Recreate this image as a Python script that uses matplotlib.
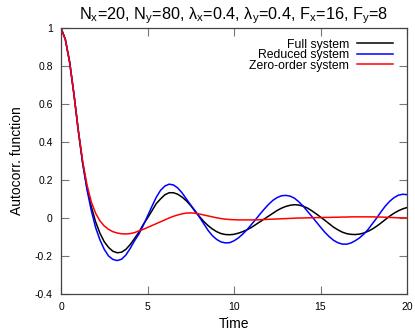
import numpy as np
import matplotlib
matplotlib.use("Agg")
import matplotlib.pyplot as plt

plt.rcParams['font.family'] = ['Liberation Sans', 'DejaVu Sans']

# time grid, step 0.25
time = np.arange(0, 20.001, 0.25)

full = [1.0, 0.94, 0.82, 0.65, 0.46, 0.29, 0.16, 0.06, -0.02, -0.08,
        -0.125, -0.155, -0.175, -0.183, -0.18, -0.165, -0.14, -0.108, -0.075, -0.035,
        0.0, 0.037, 0.075, 0.1, 0.122, 0.133, 0.133, 0.125, 0.11, 0.09,
        0.065, 0.035, 0.008, -0.018, -0.04, -0.058, -0.072, -0.082, -0.087, -0.088,
        -0.086, -0.08, -0.072, -0.062, -0.05, -0.035, -0.02, -0.005, 0.01, 0.025,
        0.04, 0.052, 0.061, 0.067, 0.07, 0.068, 0.062, 0.052, 0.038, 0.022,
        0.005, -0.012, -0.03, -0.048, -0.062, -0.074, -0.082, -0.086, -0.087, -0.085,
        -0.079, -0.07, -0.058, -0.043, -0.026, -0.008, 0.01, 0.025, 0.038, 0.048,
        0.055]

reduced = [1.0, 0.94, 0.82, 0.65, 0.46, 0.29, 0.15, 0.04, -0.05, -0.115,
           -0.165, -0.2, -0.218, -0.224, -0.217, -0.195, -0.16, -0.12, -0.085, -0.04,
           0.01, 0.06, 0.108, 0.145, 0.168, 0.178, 0.174, 0.158, 0.132, 0.1,
           0.068, 0.038, 0.005, -0.03, -0.065, -0.093, -0.113, -0.126, -0.131, -0.13,
           -0.12, -0.105, -0.085, -0.062, -0.035, -0.008, 0.02, 0.047, 0.072, 0.093,
           0.108, 0.117, 0.119, 0.115, 0.104, 0.085, 0.062, 0.035, 0.008, -0.02,
           -0.048, -0.075, -0.098, -0.117, -0.13, -0.137, -0.138, -0.132, -0.12, -0.105,
           -0.085, -0.06, -0.03, 0.0, 0.033, 0.063, 0.088, 0.107, 0.12, 0.125,
           0.123]

zero_order = [1.0, 0.94, 0.82, 0.65, 0.46, 0.3, 0.175, 0.085, 0.025, -0.015,
              -0.042, -0.06, -0.072, -0.079, -0.083, -0.084, -0.082, -0.077, -0.068, -0.06,
              -0.05, -0.04, -0.03, -0.02, -0.01, 0.0, 0.009, 0.016, 0.022, 0.026,
              0.027, 0.025, 0.021, 0.016, 0.011, 0.006, 0.001, -0.003, -0.006, -0.008,
              -0.009, -0.01, -0.01, -0.01, -0.01, -0.01, -0.009, -0.008, -0.007, -0.006,
              -0.005, -0.004, -0.003, -0.002, -0.001, 0.0, 0.0, 0.001, 0.001, 0.002,
              0.002, 0.003, 0.003, 0.004, 0.004, 0.005, 0.005, 0.006, 0.006, 0.006,
              0.006, 0.006, 0.006, 0.005, 0.005, 0.004, 0.003, 0.002, 0.001, 0.001,
              0.0]

xticks = [0, 5, 10, 15, 20]
yticks = [-0.4, -0.2, 0, 0.2, 0.4, 0.6, 0.8, 1]
yticklabels = ['-0.4', '-0.2', '0', '0.2', '0.4', '0.6', '0.8', '1']

fig = plt.figure(figsize=(4.15, 3.31), dpi=100)
ax = fig.add_axes([61/415, 37/331, 346/415, 266/331])

ax.plot(time, full, color='black', lw=1.1, label='Full system')
ax.plot(time, reduced, color='#0000ff', lw=1.1, label='Reduced system')
ax.plot(time, zero_order, color='#ff0000', lw=1.1, label='Zero-order system')

ax.set_xlim(0, 20)
ax.set_ylim(-0.4, 1)
ax.set_xticks(xticks)
ax.set_yticks(yticks)
ax.set_yticklabels(yticklabels)
ax.tick_params(direction='in', length=5.5, width=0.8, color='#777777',
               top=True, right=True, labelsize=7.5, pad=6)
for s in ax.spines.values():
    s.set_color('#444444')
    s.set_linewidth(0.9)

ax.set_xlabel('Time', fontsize=10, labelpad=3)
ax.set_ylabel('Autocorr. function', fontsize=10, labelpad=8)
ax.set_title(r'N$_\mathregular{x}$=20, N$_\mathregular{y}$=80, '
             r'$\mathregular{\lambda_x}$=0.4, $\mathregular{\lambda_y}$=0.4, '
             r'F$_\mathregular{x}$=16, F$_\mathregular{y}$=8', fontsize=11.7, pad=6)

# legend: text right-aligned, line sample after it (gnuplot style)
leg = ax.legend(loc='upper right', bbox_to_anchor=(0.985, 0.992), frameon=False,
                markerfirst=False, fontsize=8.8, handlelength=3.0, handletextpad=0.6,
                labelspacing=-0.12, borderaxespad=0.3)
for t in leg.get_texts():
    t.set_ha('right')
leg._legend_box.align = 'right'

fig.savefig('out.png', dpi=100)
